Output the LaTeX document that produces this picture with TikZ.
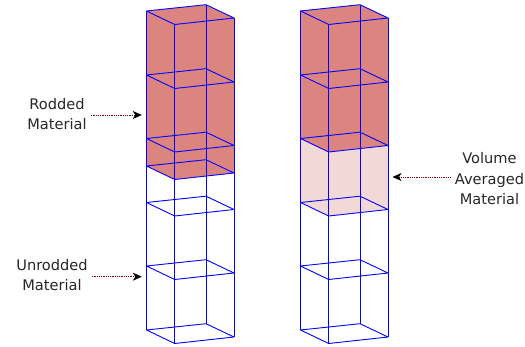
\documentclass[tikz,border=0pt]{standalone}
\usepackage{fontspec}
\setmainfont{DejaVu Sans}
\usetikzlibrary{arrows.meta}
\definecolor{rodded}{HTML}{DC8580}
\definecolor{averaged}{HTML}{F3D8D8}
\tikzset{
  x=1pt,y=-1pt,
  wire/.style={draw=blue,line width=0.9pt,line join=round},
  lbl/.style={font=\fontsize{14.6pt}{20.5pt}\selectfont,align=center,text=black!85,inner sep=0pt},
  pointer/.style={draw=red!50!black,densely dotted,line width=0.8pt,-{Stealth[black,length=9pt,width=8pt,inset=2.5pt]}}
}
% #1 = x of left corner, #2 = y of left corner
\newcommand{\levelring}[2]{%
  \draw[wire] (#1,#2) -- ++(59.5,-6.3) -- ++(28,13.3) -- ++(-59.3,6.5) -- cycle;}
\newcommand{\uprights}[3]{% x, ytop, ybottom
  \draw[wire] (#1,#2) -- (#1,#3);
  \draw[wire] (#1+28.2,#2+13.5) -- (#1+28.2,#3+13.5);
  \draw[wire] (#1+59.5,#2-6.3) -- (#1+59.5,#3-6.3);
  \draw[wire] (#1+87.5,#2+7) -- (#1+87.5,#3+7);}
\newcommand{\silhouette}[4]{% colour, x, ytop, ybottom
  \fill[#1] (#2,#3) -- (#2+59.5,#3-6.3) -- (#2+87.5,#3+7) -- (#2+87.5,#4+7)
    -- (#2+28.2,#4+13.5) -- (#2,#4) -- cycle;}
\begin{document}
\begin{tikzpicture}
\useasboundingbox (0,0) rectangle (525,347);
% left column
\silhouette{rodded}{146.5}{11}{166}
\uprights{146.5}{11}{330}
\foreach \y in {11,75,138.5,166,202.5,266,330} {\levelring{146.5}{\y}}
% right column
\silhouette{averaged}{300.5}{138.5}{202.5}
\silhouette{rodded}{300.5}{11}{138.5}
\uprights{300.5}{11}{330}
\foreach \y in {11,75,138.5,202.5,266,330} {\levelring{300.5}{\y}}
% labels
\node[lbl] (rod) at (57,114) {Rodded\\Material};
\node[lbl] (unrod) at (52,275) {Unrodded\\Material};
\node[lbl] (avg) at (489.5,179) {Volume\\Averaged\\Material};
\coordinate (rodtip) at (141.8,115);
\coordinate (unrodtip) at (141.8,276.7);
\coordinate (avgtip) at (392.5,177);
\draw[pointer] (rod.east |- rodtip) ++(4,0) -- (rodtip);
\draw[pointer] (unrod.east |- unrodtip) ++(4,0) -- (unrodtip);
\draw[pointer] (avg.west |- avgtip) ++(-4,0) -- (avgtip);
\end{tikzpicture}
\end{document}
